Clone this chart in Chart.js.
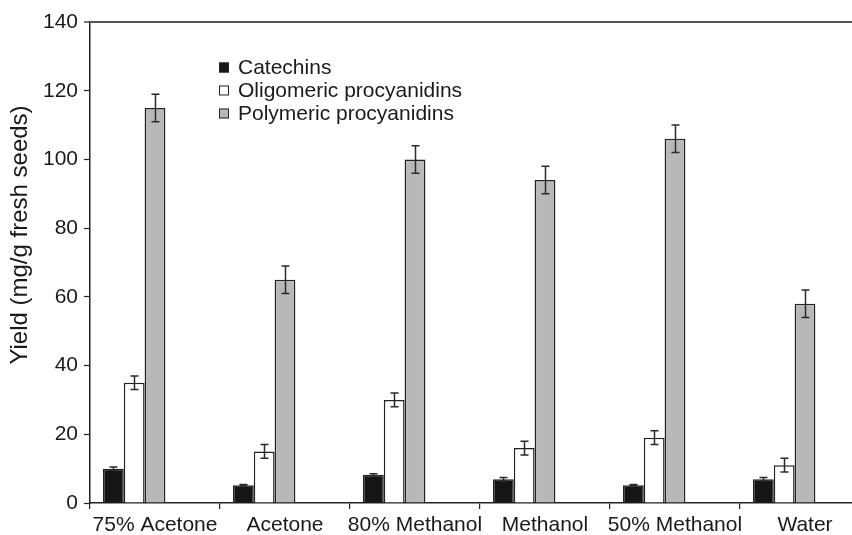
<!DOCTYPE html>
<html>
<head>
<meta charset="utf-8">
<script src="https://cdn.jsdelivr.net/npm/chart.js@4.4.1/dist/chart.umd.min.js"></script>
<style>
  html, body { margin: 0; padding: 0; background: #fff; overflow: hidden; }
  #wrap { width: 852px; height: 535px; overflow: hidden; position: relative; }
  canvas { display: block; }
</style>
</head>
<body>
<div id="wrap"><canvas id="c" width="900" height="535"></canvas></div>
<script>
// Extraction solvents and yields (mg/g fresh seeds)
const categories = ['75% Acetone', 'Acetone', '80% Methanol', 'Methanol', '50% Methanol', 'Water'];
const catechins = [10, 5.2, 8.2, 6.9, 5.2, 6.9];
const catechinsErr = [0.5, 0.2, 0.3, 0.5, 0.2, 0.5];
const oligomeric = [35, 15, 30, 16, 19, 11];
const oligomericErr = [2, 2, 2, 2, 2, 2];
const polymeric = [115, 65, 100, 94, 106, 58];
const polymericErr = [4, 4, 4, 4, 4, 4];
const yTicks = [0, 20, 40, 60, 80, 100, 120, 140];
const yTitle = 'Yield (mg/g fresh seeds)';

const FONT = '"Liberation Sans", Arial, Helvetica, sans-serif';
const INK = '#1a1a1a';

// Draws the +/- error whiskers on top of each bar
const errorBars = {
  id: 'errorBars',
  afterDatasetsDraw(chart) {
    const ctx = chart.ctx;
    const y = chart.scales.y;
    ctx.save();
    ctx.strokeStyle = '#2a2a2a';
    ctx.lineWidth = 1.5;
    chart.data.datasets.forEach((ds, di) => {
      if (!ds.errors) return;
      const meta = chart.getDatasetMeta(di);
      meta.data.forEach((bar, i) => {
        const v = ds.data[i], e = ds.errors[i];
        if (v == null || !e) return;
        const x = Math.round(bar.x) + 0.5;
        const yTop = y.getPixelForValue(v + e);
        const yBot = y.getPixelForValue(v - e);
        const cap = 4;
        ctx.beginPath();
        ctx.moveTo(x, yTop); ctx.lineTo(x, yBot);
        ctx.moveTo(x - cap, yTop); ctx.lineTo(x + cap, yTop);
        ctx.moveTo(x - cap, yBot); ctx.lineTo(x + cap, yBot);
        ctx.stroke();
      });
    });
    ctx.restore();
  }
};

// Legend list inside the plot area, plus the rotated y-axis title
const annotations = {
  id: 'annotations',
  afterDraw(chart) {
    const ctx = chart.ctx;
    const area = chart.chartArea;
    ctx.save();
    ctx.font = '21px ' + FONT;
    ctx.textBaseline = 'middle';
    ctx.textAlign = 'left';
    const items = chart.data.datasets.filter(d => d.label);
    items.forEach((ds, i) => {
      const cy = area.top + 45 + i * 23;
      const sx = area.left + 129;
      ctx.fillStyle = ds.backgroundColor;
      ctx.fillRect(sx, cy - 4.5, 10, 10);
      ctx.strokeStyle = '#222';
      ctx.lineWidth = 1;
      ctx.strokeRect(sx + 0.5, cy - 4, 9, 9);
      ctx.fillStyle = INK;
      ctx.fillText(ds.label, area.left + 148, cy + 1);
    });
    // y title
    ctx.translate(20, 235);
    ctx.rotate(-Math.PI / 2);
    ctx.textAlign = 'center';
    ctx.font = '24px ' + FONT;
    ctx.fillStyle = INK;
    ctx.fillText(yTitle, 0, 0);
    ctx.restore();
  }
};

const barBase = { borderColor: '#222', borderWidth: 1.5, borderSkipped: 'bottom' };

new Chart(document.getElementById('c'), {
  type: 'bar',
  data: {
    labels: categories,
    datasets: [
      Object.assign({ label: 'Catechins', data: catechins, errors: catechinsErr, backgroundColor: '#151515' }, barBase),
      Object.assign({ label: 'Oligomeric procyanidins', data: oligomeric, errors: oligomericErr, backgroundColor: '#ffffff' }, barBase),
      Object.assign({ label: 'Polymeric procyanidins', data: polymeric, errors: polymericErr, backgroundColor: '#b8b8b8' }, barBase),
      // empty slots that keep each group of three to the left of its category
      { label: '', data: categories.map(() => null), backgroundColor: 'transparent' },
      { label: '', data: categories.map(() => null), backgroundColor: 'transparent' }
    ]
  },
  options: {
    responsive: false,
    animation: false,
    devicePixelRatio: 1,
    categoryPercentage: 0.8,
    barPercentage: 1.0,
    layout: { padding: { top: 22, right: 30, left: 0, bottom: 0 } },
    plugins: { legend: { display: false }, tooltip: { enabled: false } },
    scales: {
      x: {
        offset: true,
        grid: { display: true, drawOnChartArea: false, offset: true, tickLength: 6, color: '#222', lineWidth: 1.2 },
        border: { display: true, color: '#222', width: 1.5 },
        ticks: { color: INK, font: { family: FONT, size: 21 }, padding: 4, maxRotation: 0, autoSkip: false },
        afterFit(scale) { scale.height = 32; }
      },
      y: {
        min: 0, max: 140,
        afterBuildTicks(scale) { scale.ticks = yTicks.map(v => ({ value: v })); },
        grid: {
          drawOnChartArea: true,
          tickLength: 6,
          color: ctx => (ctx.tick && ctx.tick.value === 140 ? '#555' : 'rgba(0,0,0,0)'),
          lineWidth: ctx => (ctx.tick && ctx.tick.value === 140 ? 2 : 1),
          tickColor: '#222',
          tickWidth: 1.2
        },
        border: { display: true, color: '#222', width: 1.5 },
        ticks: { color: INK, font: { family: FONT, size: 21 }, padding: 6 },
        afterFit(scale) { scale.width = 90; }
      }
    }
  },
  plugins: [errorBars, annotations]
});
</script>
</body>
</html>
